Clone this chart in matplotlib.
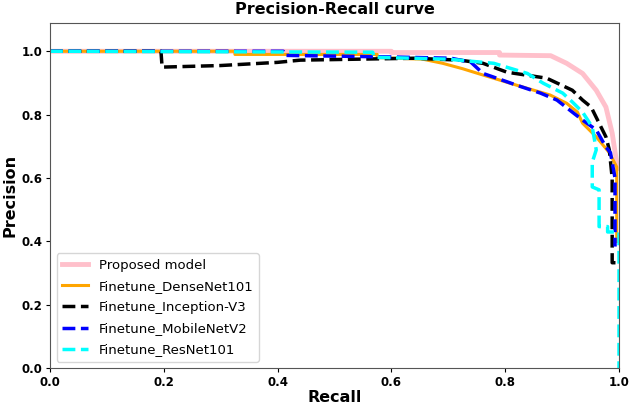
import matplotlib
matplotlib.use("Agg")
import matplotlib.pyplot as plt

# ------------------------------------------------------------------
# PR curve data
# ------------------------------------------------------------------
labels = ["Proposed model", "Finetune_DenseNet101", "Finetune_Inception-V3",
          "Finetune_MobileNetV2", "Finetune_ResNet101"]

proposed_r = [0.0, 0.60, 0.60, 0.79, 0.79, 0.88, 0.908, 0.936, 0.96, 0.977, 0.988, 0.996, 0.998]
proposed_p = [1.0, 1.0, 0.996, 0.996, 0.988, 0.986, 0.962, 0.93, 0.877, 0.824, 0.742, 0.648, 0.63]

dense_r = [0.0, 0.325, 0.325, 0.575, 0.575, 0.655, 0.69, 0.725, 0.761, 0.82, 0.879, 0.908,
           0.927, 0.936, 0.96, 0.983, 0.996, 0.996]
dense_p = [1.0, 1.0, 0.99, 0.99, 0.98, 0.975, 0.962, 0.945, 0.925, 0.893, 0.862, 0.836,
           0.808, 0.773, 0.73, 0.68, 0.635, 0.40]

incep_r = [0.0, 0.195, 0.197, 0.30, 0.40, 0.44, 0.64, 0.72, 0.761, 0.803, 0.873, 0.918,
           0.936, 0.951, 0.977, 0.983, 0.988, 0.988, 0.994]
incep_p = [1.0, 1.0, 0.95, 0.955, 0.965, 0.972, 0.978, 0.972, 0.962, 0.934, 0.915, 0.877,
           0.846, 0.824, 0.73, 0.689, 0.60, 0.333, 0.333]

mobile_r = [0.0, 0.41, 0.413, 0.60, 0.705, 0.74, 0.761, 0.79, 0.82, 0.862, 0.891, 0.918,
            0.936, 0.96, 0.977, 0.985, 0.993, 0.993]
mobile_p = [1.0, 1.0, 0.987, 0.982, 0.978, 0.965, 0.93, 0.912, 0.893, 0.868, 0.846, 0.808,
            0.783, 0.752, 0.698, 0.68, 0.60, 0.384]

resnet_r = [0.0, 0.567, 0.57, 0.70, 0.78, 0.839, 0.867, 0.901, 0.918, 0.936, 0.953, 0.96,
            0.953, 0.953, 0.965, 0.965, 0.98, 0.98, 1.0, 1.0]
resnet_p = [1.0, 0.997, 0.981, 0.975, 0.962, 0.93, 0.899, 0.868, 0.84, 0.808, 0.761, 0.689,
            0.65, 0.572, 0.563, 0.447, 0.447, 0.43, 0.43, 0.0]

curves = [
    (proposed_r, proposed_p, dict(color="pink", lw=3.5, ls="-")),
    (dense_r, dense_p, dict(color="orange", lw=2.2, ls="-")),
    (incep_r, incep_p, dict(color="black", lw=2.5, ls="--")),
    (mobile_r, mobile_p, dict(color="blue", lw=2.5, ls="--")),
    (resnet_r, resnet_p, dict(color="cyan", lw=2.5, ls="--")),
]

fig = plt.figure(figsize=(6.29, 4.08), dpi=100)
ax = fig.add_axes([0.0795, 0.0973, 0.9046, 0.847])

for (r, p, style), name in zip(curves, labels):
    ax.plot(r, p, label=name, **style)

ax.set_xlim(0.0, 1.0)
ax.set_ylim(0.0, 1.09)
ax.set_xticks([0.0, 0.2, 0.4, 0.6, 0.8, 1.0])
ax.set_yticks([0.0, 0.2, 0.4, 0.6, 0.8, 1.0])
ax.tick_params(length=3, pad=2.5)
for lbl in ax.get_xticklabels() + ax.get_yticklabels():
    lbl.set_fontweight("bold")
    lbl.set_fontsize(8.5)
for sp in ax.spines.values():
    sp.set_color("#555555")

ax.set_title("Precision-Recall curve", fontsize=11.5, fontweight="bold", pad=6)
ax.set_xlabel("Recall", fontsize=11.5, fontweight="bold", labelpad=1)
ax.set_ylabel("Precision", fontsize=11.5, fontweight="bold", labelpad=3)
ax.legend(loc="lower left", fontsize=9.5, handlelength=2.0, borderaxespad=0.5,
          labelspacing=0.62)

fig.savefig("out.png", dpi=100)
